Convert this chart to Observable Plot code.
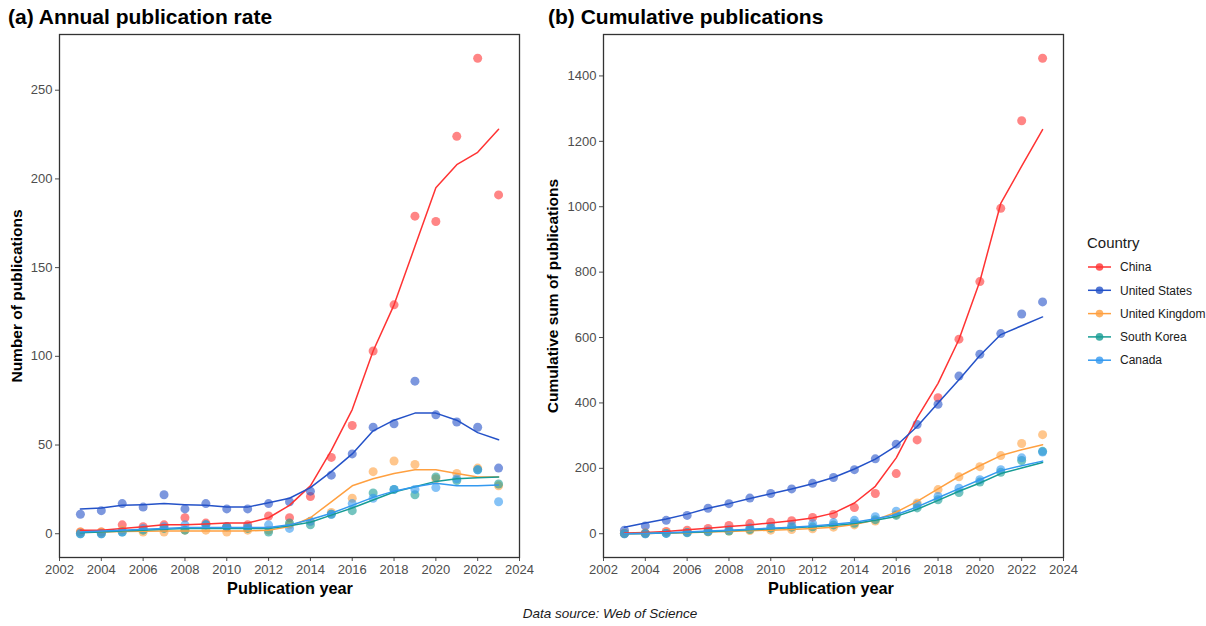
<!DOCTYPE html>
<html>
<head>
<meta charset="utf-8">
<script src="https://cdn.jsdelivr.net/npm/d3@7"></script>
<script src="https://cdn.jsdelivr.net/npm/@observablehq/plot@0.6"></script>
<style>
  body { margin: 0; background: #fff; font-family: "Liberation Sans", Arial, sans-serif; }
  #root { position: relative; width: 1206px; height: 626px; overflow: hidden; background: #fff; }
  .panel { position: absolute; top: 0; }
</style>
</head>
<body>
<div id="root">
  <div id="pa" class="panel" style="left:0px"></div>
  <div id="pb" class="panel" style="left:540px"></div>
</div>
<script>
// ---------------- data ----------------
const years = [2003,2004,2005,2006,2007,2008,2009,2010,2011,2012,2013,2014,2015,2016,2017,2018,2019,2020,2021,2022,2023];
const countries = ["China","United States","United Kingdom","South Korea","Canada"];
const colors = ["#FF3333","#2452C8","#FFA040","#179C94","#3399F0"];

const xTicks = [2002,2004,2006,2008,2010,2012,2014,2016,2018,2020,2022,2024];
const yTicksA = [0,50,100,150,200,250];
const yTicksB = [0,200,400,600,800,1000,1200,1400];

// (a) annual publications (points)
const chinaAnnual  = [1,1,5,4,5,9,6,4,5,10,9,21,43,61,103,129,179,176,224,268,191];
const usAnnual     = [11,13,17,15,22,14,17,14,14,17,18,24,33,45,60,62,86,67,63,60,37];
const ukAnnual     = [1,1,2,1,1,2,2,1,2,2,5,7,12,20,35,41,39,31,34,37,27];
const koreaAnnual  = [0,0,1,2,3,2,5,4,3,1,6,5,11,13,23,25,22,32,30,36,28];
const canadaAnnual = [0,0,1,3,4,5,5,4,4,5,3,7,11,17,20,25,25,26,31,36,18];

// (a) smoothed trend lines
const chinaFitA  = [2,2,3,4,5,5,5.5,6,6,9,16,27,47,70,103,129,162,195,208,215,228];
const usFitA     = [14,14.5,16,16.4,17,16.4,16,15,15,17.5,20,26,35,45,58,64,68,68,64,57,53];
const ukFitA     = [1,1,1.2,1.4,1.5,1.5,1.5,1.5,1.6,2,4,9,18,27,31,34,36,36,34,32,32];
const koreaFitA  = [0.5,1,1.5,2,2.5,3,3,3,3,3,4.5,6.5,10.5,14.5,19,23.5,26.5,29.5,31,31.5,32];
const canadaFitA = [1,1.5,2,2.5,3,3.5,3.5,3.5,3.5,3.5,5,8,11.5,16,20.5,24,26.5,28.5,27,27,27.5];

// (b) cumulative publications (points)
const chinaCum  = [1,2,7,11,16,25,31,35,40,50,59,80,123,184,287,416,595,771,995,1263,1454];
const usCum     = [11,24,41,56,78,92,109,123,137,154,172,196,229,274,334,396,482,549,612,672,709];
const ukCum     = [1,2,4,5,6,8,10,11,13,15,20,27,39,59,94,135,174,205,239,276,303];
const koreaCum  = [0,0,1,3,6,8,13,17,20,21,27,32,43,56,79,104,126,158,188,224,252];
const canadaCum = [0,0,1,4,8,13,18,22,26,31,34,41,52,69,89,114,139,165,196,232,250];

// (b) smoothed trend lines
const chinaFitB  = [2,4,7,12,17,22,27,33,40,48,63,94,145,232,354,460,594,772,1010,1124,1236];
const usFitB     = [20,33,45,60,78,92,108,122,137,153,172,198,228,269,328,400,471,545,609,636,663];
const ukFitB     = [0,1,2,3,5,7,9,11,13,16,20,28,42,66,99,137,175,208,239,257,272];
const koreaFitB  = [0,1,2,4,6,9,12,15,18,21,25,31,41,53,75,102,130,155,184,201,218];
const canadaFitB = [0,1,3,5,8,11,14,17,20,24,29,35,46,58,82,110,138,165,193,208,222];

// ---------------- tidy tables ----------------
function tidy(seriesList) {
  const rows = [];
  seriesList.forEach((vals, i) => {
    vals.forEach((v, j) => rows.push({country: countries[i], year: years[j], value: v}));
  });
  return rows;
}
const ptsA = tidy([chinaAnnual, usAnnual, ukAnnual, koreaAnnual, canadaAnnual]);
const fitA = tidy([chinaFitA, usFitA, ukFitA, koreaFitA, canadaFitA]);
const ptsB = tidy([chinaCum, usCum, ukCum, koreaCum, canadaCum]);
const fitB = tidy([chinaFitB, usFitB, ukFitB, koreaFitB, canadaFitB]);

function expand(lo, hi) { const e = (hi - lo) * 0.05; return [lo - e, hi + e]; }

function panel(pts, fit, yDomain, yTicks, marginLeft) {
  return Plot.plot({
    width: 530,
    height: 600,
    marginLeft: marginLeft,
    marginRight: 530 - marginLeft - 460,
    marginTop: 34,
    marginBottom: 43,
    style: {fontSize: "13px", fontFamily: "'Liberation Sans', Arial, sans-serif", color: "#4d4d4d", background: "transparent", overflow: "visible"},
    x: {domain: [2002, 2024], ticks: xTicks, tickFormat: d => String(d), label: null, tickSize: 4, tickPadding: 3},
    y: {domain: yDomain, ticks: yTicks, tickFormat: d => String(d), label: null, tickSize: 4, tickPadding: 3},
    color: {domain: countries, range: colors},
    marks: [
      Plot.dot(pts, {x: "year", y: "value", fill: "country", r: 4.5, fillOpacity: 0.6, stroke: "none"}),
      Plot.line(fit, {x: "year", y: "value", z: "country", stroke: "country", strokeWidth: 1.5, curve: "linear"}),
      Plot.frame({stroke: "#333", strokeWidth: 1.3})
    ]
  });
}

document.getElementById("pa").appendChild(panel(ptsA, fitA, expand(0, 268), yTicksA, 59));
document.getElementById("pb").appendChild(panel(ptsB, fitB, expand(0, 1454), yTicksB, 63));

// ---------------- titles, labels, legend ----------------
const ov = d3.select("#root").append("svg")
  .attr("width", 1206).attr("height", 626)
  .style("position", "absolute").style("left", 0).style("top", 0)
  .style("font-family", "'Liberation Sans', Arial, sans-serif");

function txt(x, y, s, opts) {
  const t = ov.append("text").attr("x", x).attr("y", y).text(s)
    .attr("font-size", opts.size).attr("fill", opts.fill || "#000")
    .attr("font-weight", opts.weight || "normal")
    .attr("font-style", opts.style || "normal")
    .attr("text-anchor", opts.anchor || "start");
  if (opts.rotate) t.attr("transform", `rotate(-90 ${x} ${y})`);
  return t;
}
txt(8, 24, "(a) Annual publication rate", {size: "21px", weight: "bold"});
txt(548, 24, "(b) Cumulative publications", {size: "21px", weight: "bold"});
txt(290, 594, "Publication year", {size: "16.3px", weight: "bold", anchor: "middle"});
txt(831, 594, "Publication year", {size: "16.3px", weight: "bold", anchor: "middle"});
txt(22, 296, "Number of publications", {size: "15.5px", weight: "bold", anchor: "middle", rotate: true});
txt(558, 296, "Cumulative sum of publications", {size: "15.5px", weight: "bold", anchor: "middle", rotate: true});
txt(610, 618, "Data source: Web of Science", {size: "13.5px", style: "italic", anchor: "middle", fill: "#1a1a1a"});

// legend
txt(1087, 248, "Country", {size: "15px", fill: "#1a1a1a"});
countries.forEach((c, i) => {
  const y = 267 + i * 23.3;
  ov.append("line").attr("x1", 1088).attr("x2", 1111).attr("y1", y).attr("y2", y)
    .attr("stroke", colors[i]).attr("stroke-width", 1.5);
  ov.append("circle").attr("cx", 1099.5).attr("cy", y).attr("r", 3.8)
    .attr("fill", colors[i]).attr("fill-opacity", 0.8);
  txt(1120, y + 4.2, c, {size: "12px", fill: "#1a1a1a"});
});
</script>
</body>
</html>
